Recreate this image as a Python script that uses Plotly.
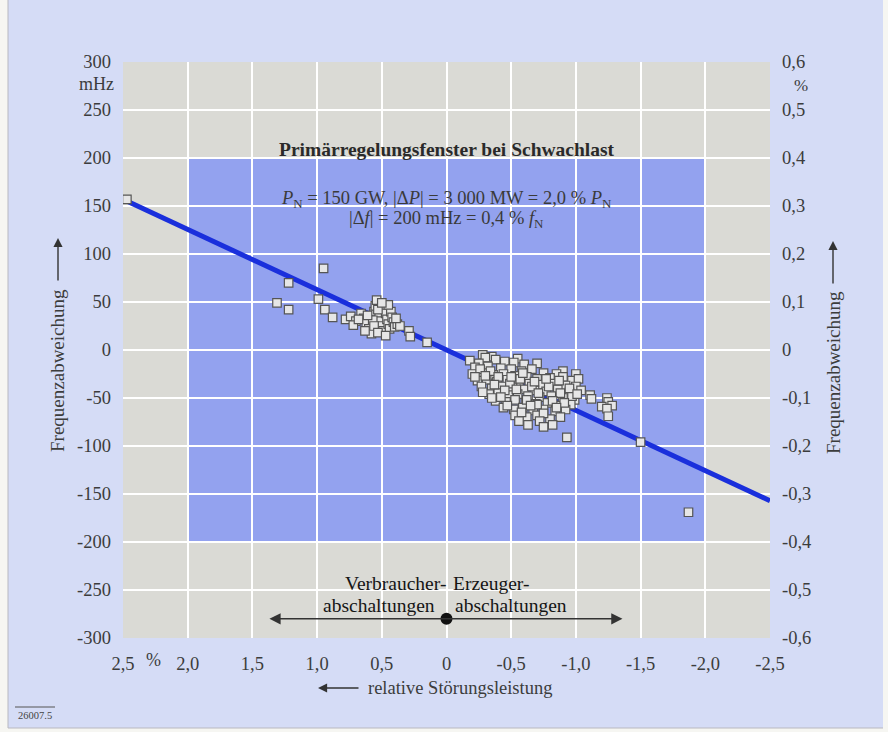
import plotly.graph_objects as go

# ---------------- data ----------------
x_ticks = [2.5, 2.0, 1.5, 1.0, 0.5, 0.0, -0.5, -1.0, -1.5, -2.0, -2.5]
x_tick_text = ["2,5", "2,0", "1,5", "1,0", "0,5", "0", "-0,5", "-1,0", "-1,5", "-2,0", "-2,5"]
y_ticks = [300, 250, 200, 150, 100, 50, 0, -50, -100, -150, -200, -250, -300]
y_tick_text = [str(v) for v in y_ticks]
y2_ticks = [0.6, 0.5, 0.4, 0.3, 0.2, 0.1, 0.0, -0.1, -0.2, -0.3, -0.4, -0.5, -0.6]
y2_tick_text = ["0,6", "0,5", "0,4", "0,3", "0,2", "0,1", "0", "-0,1", "-0,2", "-0,3", "-0,4", "-0,5", "-0,6"]

# characteristic line (relative disturbance % -> frequency deviation mHz)
line_x = [2.5, -2.5]
line_y = [157, -157]

# window (primary control window at low load)
window_x = [2.0, -2.0]
window_y = [200, -200]

# measured events: left group (consumer disconnections)
left_x = [2.47, 1.31, 1.22, 1.22, 0.95, 0.99, 0.94, 0.88,
          0.78, 0.74, 0.70, 0.72, 0.66, 0.64, 0.62, 0.60, 0.58, 0.56, 0.55, 0.54,
          0.52, 0.51, 0.50, 0.49, 0.48, 0.47, 0.46, 0.45, 0.44, 0.43, 0.42, 0.41,
          0.40, 0.38, 0.36, 0.57, 0.53, 0.61, 0.68, 0.45, 0.50, 0.39, 0.56, 0.63,
          0.53, 0.47, 0.29, 0.28, 0.15]
left_y = [157, 49, 42, 70, 85, 53, 42, 34,
          32, 35, 30, 26, 38, 33, 28, 22, 17, 40, 46, 52,
          35, 30, 25, 20, 44, 38, 32, 27, 22, 40, 34, 29,
          24, 27, 25, 31, 42, 36, 32, 47, 49, 33, 25, 20,
          18, 15, 20, 14, 8]

# right group (generator disconnections)
right_x = [-0.18, -0.28, -0.35, -0.55, -0.70, -0.90, -1.00,
           -0.30, -0.38, -0.45, -0.25, -0.52, -0.60,
           -0.22, -0.32, -0.42, -0.50, -0.58, -0.66, -0.75, -0.85,
           -0.20, -0.28, -0.36, -0.44, -0.53, -0.62, -0.70, -0.80, -0.90, -0.97, -1.02,
           -0.24, -0.31, -0.39, -0.47, -0.56, -0.64, -0.73, -0.83, -0.92, -1.00,
           -0.27, -0.35, -0.43, -0.51, -0.60, -0.68, -0.77, -0.86, -0.95, -1.04,
           -0.33, -0.40, -0.48, -0.55, -0.63, -0.72, -0.81, -0.90, -0.99,
           -0.38, -0.46, -0.53, -0.61, -0.69, -0.78, -0.87, -0.96,
           -0.44, -0.52, -0.59, -0.67, -0.75, -0.84, -0.92,
           -0.53, -0.62, -0.70, -0.80, -0.88,
           -0.26, -0.34, -0.40, -0.49, -0.57, -0.66, -0.71, -0.79, -0.88, -0.97,
           -0.30, -0.37, -0.45, -0.54, -0.62, -0.70, -0.82, -0.91, -0.58, -0.65,
           -0.75, -0.85, -0.47, -0.42, -0.50, -0.59, -0.68, -0.77, -0.87, -0.95,
           -1.01, -0.22, -0.28, -0.35, -0.56, -0.72, -0.82,
           -0.75, -0.63, -0.93,
           -1.11, -1.12, -1.24, -1.25, -1.28, -1.20, -1.24, -1.25,
           -1.50, -1.87]
right_y = [-11, -5, -7, -9, -14, -22, -25,
           -8, -10, -12, -14, -13, -15,
           -18, -17, -19, -20, -22, -20, -24, -25,
           -25, -24, -26, -25, -27, -28, -30, -29, -28, -32, -30,
           -32, -31, -33, -31, -34, -35, -36, -35, -37, -38,
           -38, -40, -38, -39, -41, -42, -43, -41, -44, -42,
           -46, -45, -47, -46, -48, -49, -48, -50, -52,
           -53, -54, -52, -55, -56, -55, -58, -57,
           -60, -62, -60, -63, -62, -64, -62,
           -68, -70, -68, -72, -70,
           -20, -22, -28, -35, -30, -38, -45, -38, -45, -48,
           -27, -36, -42, -41, -52, -57, -53, -55, -65, -58,
           -66, -60, -58, -49, -28, -24, -33, -30, -32, -40,
           -46, -28, -44, -50, -74, -74, -78,
           -80, -78, -91,
           -47, -51, -50, -54, -58, -59, -61, -69,
           -96, -169]

# disconnection marker arrow
arrow_left_x = 1.38
arrow_right_x = -1.36
arrow_y = -280
dot_x = [0.0]
dot_y = [-280]

# ---------------- styling ----------------
SERIF = "Liberation Serif, Times New Roman, serif"
TXT = "#3c3c3c"
GREY_BG = "#dadad5"
BLUE_WIN = "#93a2ef"
LAVENDER = "#d5dcf6"

L, R, T, B = 123, 770, 62, 638
W, H = 888, 732


def px(xpx):
    return (xpx - L) / (R - L)


def py(ypx):
    return (B - ypx) / (B - T)


def ptext(text, xpx, ypx, size, color=TXT, angle=0, xanchor="center"):
    return dict(text=text, x=px(xpx), y=py(ypx), xref="paper", yref="paper",
                xanchor=xanchor, yanchor="middle", textangle=angle, showarrow=False,
                font=dict(family=SERIF, size=size, color=color))


def parrow(xpx, ypx, dx, dy):
    return dict(x=px(xpx), y=py(ypx), ax=dx, ay=dy, xref="paper", yref="paper",
                axref="pixel", ayref="pixel", text="", showarrow=True, arrowhead=2,
                arrowsize=1.3, arrowwidth=1.4, arrowcolor="#333333")


def dtext(text, x, y, size, xanchor, color="#151515"):
    return dict(text=text, x=x, y=y, xref="x", yref="y", xanchor=xanchor,
                yanchor="middle", showarrow=False,
                font=dict(family=SERIF, size=size, color=color))


fig = go.Figure()

marker_style = dict(symbol="square", size=8.5, color="#e6e6e6",
                    line=dict(color="#555555", width=1.2))

fig.add_trace(go.Scatter(x=line_x, y=line_y, mode="lines",
                         line=dict(color="#1a2fdc", width=5),
                         showlegend=False, hoverinfo="skip"))
fig.add_trace(go.Scatter(x=left_x, y=left_y, mode="markers", marker=marker_style,
                         showlegend=False))
fig.add_trace(go.Scatter(x=right_x, y=right_y, mode="markers", marker=marker_style,
                         showlegend=False))
fig.add_trace(go.Scatter(x=dot_x, y=dot_y, mode="markers",
                         marker=dict(color="#111111", size=12),
                         showlegend=False, hoverinfo="skip"))
# invisible trace to activate right axis
fig.add_trace(go.Scatter(x=[0], y=[0], yaxis="y2", mode="markers",
                         marker=dict(opacity=0), showlegend=False, hoverinfo="skip"))

shapes = [
    dict(type="rect", xref="x", yref="y", x0=window_x[0], x1=window_x[1],
         y0=window_y[0], y1=window_y[1], fillcolor=BLUE_WIN, line=dict(width=0),
         layer="below"),
    # white page margins outside the lavender card
    dict(type="rect", xref="paper", yref="paper", x0=px(0), x1=px(8), y0=py(0), y1=py(W),
         fillcolor="#f6f6f2", line=dict(width=0), layer="below"),
    dict(type="rect", xref="paper", yref="paper", x0=px(883), x1=px(W), y0=py(0), y1=py(W),
         fillcolor="#f6f6f2", line=dict(width=0), layer="below"),
    dict(type="rect", xref="paper", yref="paper", x0=px(0), x1=px(W), y0=py(728), y1=py(H + 5),
         fillcolor="#f6f6f2", line=dict(width=0), layer="below"),
    dict(type="line", xref="paper", yref="paper", x0=px(8), x1=px(8), y0=py(0), y1=py(728),
         line=dict(color="#b8b8c0", width=1)),
    dict(type="line", xref="paper", yref="paper", x0=px(8), x1=px(883), y0=py(728), y1=py(728),
         line=dict(color="#b8b8c0", width=1)),
    dict(type="line", xref="paper", yref="paper", x0=px(15), x1=px(55), y0=py(707), y1=py(707),
         line=dict(color="#555555", width=1)),
]

annotations = [
    dict(text="<b>Primärregelungsfenster bei Schwachlast</b>", x=0, y=209, xref="x", yref="y",
         xanchor="center", yanchor="middle", showarrow=False,
         font=dict(family=SERIF, size=19.5, color="#2a2a2a")),
    dict(text="<i>P</i><sub>N</sub> = 150 GW, |Δ<i>P</i>| = 3 000 MW = 2,0 % <i>P</i><sub>N</sub>",
         x=0, y=157, xref="x", yref="y", xanchor="center", yanchor="middle", showarrow=False,
         font=dict(family=SERIF, size=18.5, color="#3a3a3a")),
    dict(text="|Δ<i>f</i>| = 200 mHz = 0,4 % <i>f</i><sub>N</sub>",
         x=0, y=136, xref="x", yref="y", xanchor="center", yanchor="middle", showarrow=False,
         font=dict(family=SERIF, size=18.5, color="#3a3a3a")),
    dtext("Verbraucher-", -0.012, -243, 19.5, "right"),
    dtext("abschaltungen", 0.073, -266, 19.5, "right"),
    dtext("Erzeuger-", -0.035, -243, 19.5, "left"),
    dtext("abschaltungen", -0.05, -266, 19.5, "left"),
    # double arrow
    dict(x=arrow_right_x, y=arrow_y, ax=arrow_left_x, ay=arrow_y, xref="x", yref="y",
         axref="x", ayref="y", text="", showarrow=True, arrowhead=2, arrowsize=1.4,
         arrowwidth=1.6, arrowcolor="#333333", arrowside="end+start"),
    # units
    ptext("mHz", 96, 84, 18),
    ptext("%", 801, 86, 17),
    ptext("%", 153, 660, 18),
    # axis titles
    ptext("Frequenzabweichung", 58, 371, 19, angle=-90),
    parrow(58, 238, 0, 44),
    ptext("Frequenzabweichung", 833, 373, 19, angle=-90),
    parrow(833, 241, 0, 44),
    ptext("relative Störungsleistung", 366, 688, 18.5, xanchor="left"),
    parrow(318, 688, 42, 0),
    ptext("26007.5", 35, 715, 10.5, color="#444444"),
]

fig.update_layout(
    width=W, height=H,
    margin=dict(l=L, r=W - R, t=T, b=H - B, pad=0),
    paper_bgcolor=LAVENDER,
    plot_bgcolor=GREY_BG,
    showlegend=False,
    shapes=shapes,
    annotations=annotations,
    xaxis=dict(range=[2.5, -2.5], tickvals=x_ticks, ticktext=x_tick_text,
               showgrid=True, gridcolor="white", gridwidth=2, zeroline=False,
               showline=False, ticks="", ticklabelstandoff=12,
               tickfont=dict(family=SERIF, size=18.5, color=TXT), fixedrange=True),
    yaxis=dict(range=[-300, 300], tickvals=y_ticks, ticktext=y_tick_text,
               showgrid=True, gridcolor="white", gridwidth=2, zeroline=False,
               showline=False, ticks="", ticklabelstandoff=11,
               tickfont=dict(family=SERIF, size=18.5, color=TXT), fixedrange=True),
    yaxis2=dict(range=[-0.6, 0.6], tickvals=y2_ticks, ticktext=y2_tick_text,
                overlaying="y", side="right", showgrid=False, zeroline=False,
                showline=False, ticks="", ticklabelstandoff=11,
                tickfont=dict(family=SERIF, size=18.5, color=TXT), fixedrange=True),
)

fig.write_html("out.html")
